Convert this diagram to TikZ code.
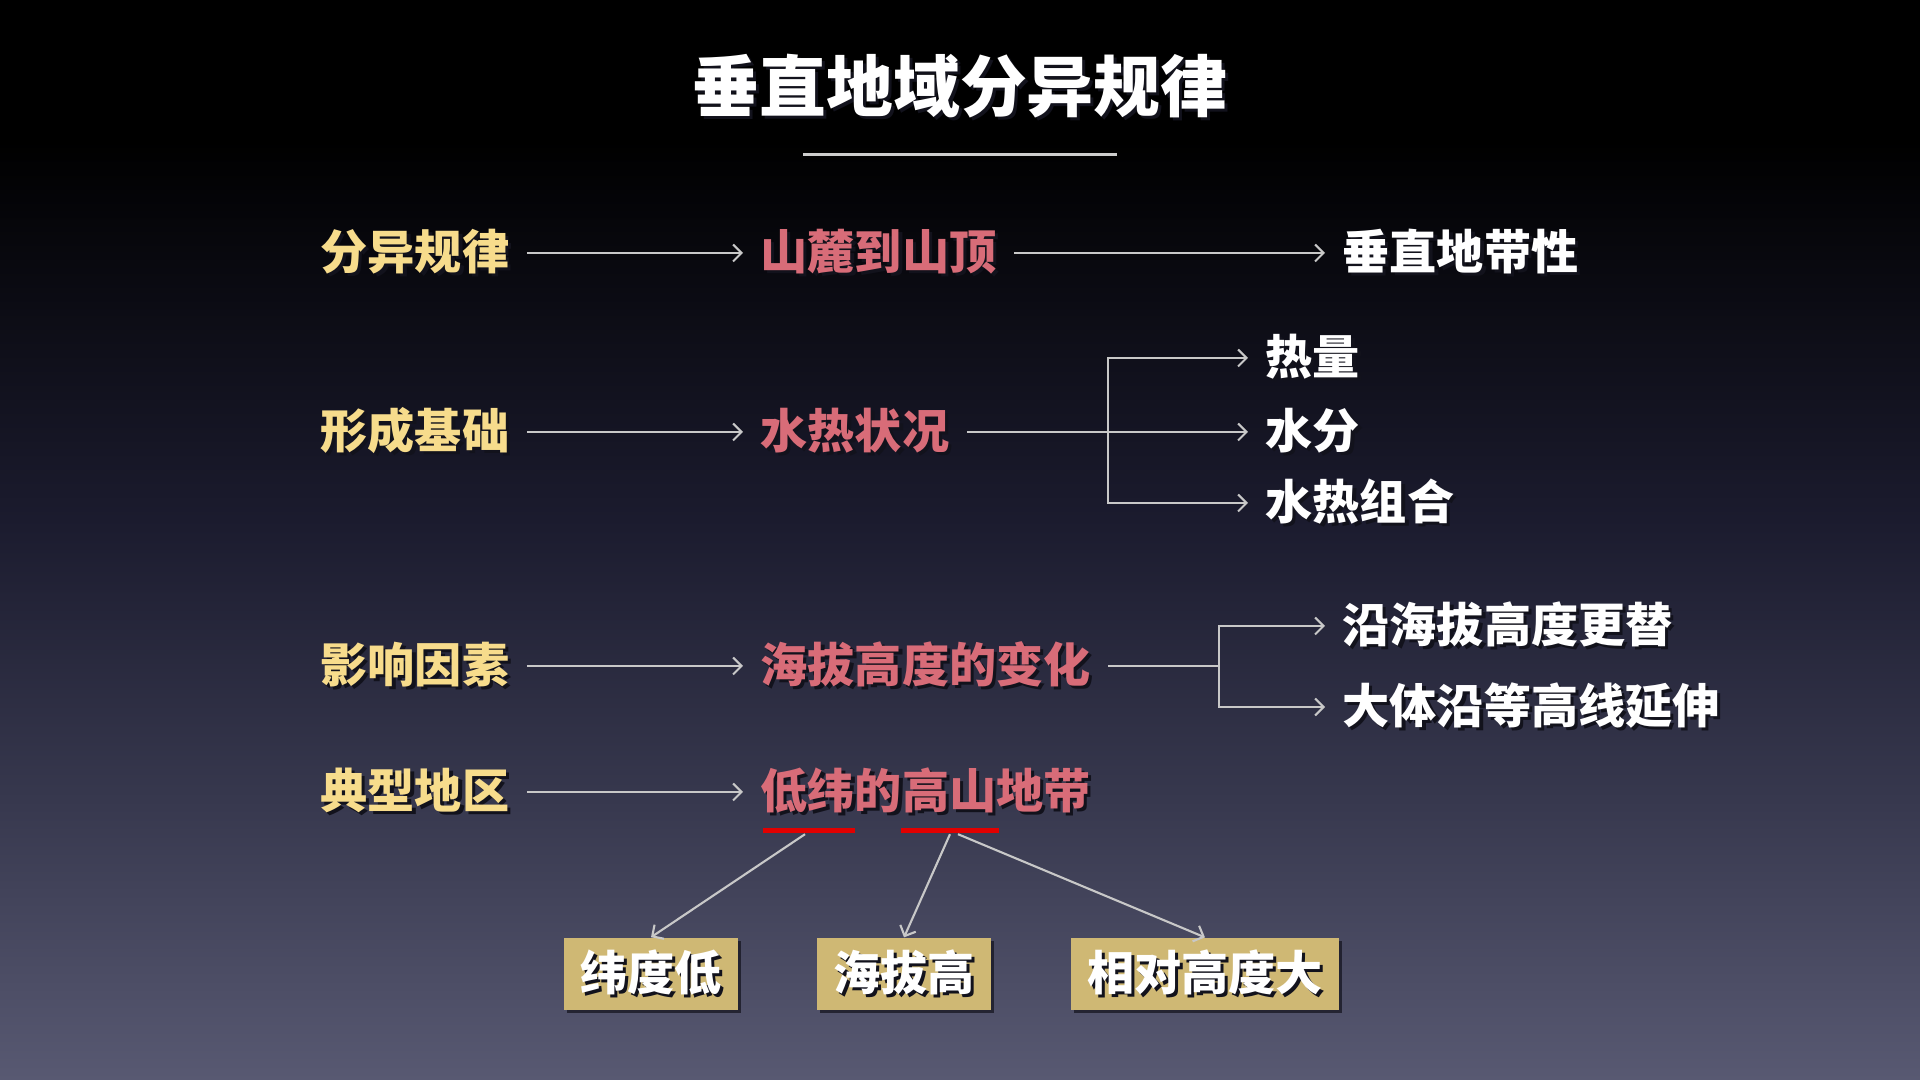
\documentclass[tikz,border=0pt]{standalone}
\usepackage{fontspec}
\usetikzlibrary{arrows.meta,shadows}
\newfontfamily\cjk{Noto Sans CJK SC}

\definecolor{bgbot}{RGB}{88,89,114}
\definecolor{bgmid}{RGB}{55,56,78}
\definecolor{bgdark}{RGB}{27,27,46}
\definecolor{labelyellow}{RGB}{247,220,140}
\definecolor{keypink}{RGB}{216,108,120}
\definecolor{boxtan}{RGB}{207,184,116}
\definecolor{linkgray}{RGB}{200,200,200}
\definecolor{markred}{RGB}{226,0,0}
\definecolor{txtshadow}{RGB}{18,18,28}
% the picture spans 25bp..75bp of the shading
\pgfdeclareverticalshading{slidebg}{100bp}{color(0bp)=(bgbot); color(25bp)=(bgbot); color(38bp)=(bgmid); color(51bp)=(bgdark); color(68.5bp)=(black); color(100bp)=(black)}

\newcommand\shtext[1]{\makebox[0pt][l]{\raisebox{-0.9pt}{\hspace{0.9pt}\textcolor{txtshadow}{#1}}}#1}

\tikzset{
  rowfont/.style={font=\cjk\bfseries\fontsize{13.4pt}{15pt}\selectfont},
  lefttext/.style={rowfont, anchor=west, text=labelyellow, inner xsep=0.17cm},
  midtext/.style={rowfont, anchor=west, text=keypink, inner xsep=0.17cm},
  righttext/.style={rowfont, anchor=west, text=white, inner xsep=0.17cm},
  tanbox/.style={rowfont, fill=boxtan, text=white, minimum height=0.71cm, inner xsep=0.16cm,
    drop shadow={shadow xshift=0.03cm, shadow yshift=-0.03cm, fill=txtshadow, opacity=0.7}},
  markline/.style={fill=markred, minimum height=0.05cm, inner sep=0pt},
  link/.style={draw=linkgray, line width=0.6pt, -{Straight Barb[length=2.4pt,width=4.8pt]}},
  plainlink/.style={draw=linkgray, line width=0.6pt}
}

\begin{document}
\begin{tikzpicture}[x=0.01cm,y=-0.01cm]
  \useasboundingbox (0,0) rectangle (1920,1080);
  \shade[shading=slidebg] (0,0) rectangle (1920,1080);

  % title
  \node[text=white, font=\cjk\bfseries\fontsize{19pt}{23pt}\selectfont] (title) at (960,88) {\shtext{垂直地域分异规律}};
  \draw[draw=linkgray!90!white, line width=0.85pt] (803,155) -- (1117,155);

  % row 1
  \node[lefttext] (ruleA) at (303,253) {\shtext{分异规律}};
  \node[midtext] (ruleB) at (743,253) {\shtext{山麓到山顶}};
  \node[righttext] (ruleC) at (1325,253) {\shtext{垂直地带性}};
  \draw[link] (ruleA) -- (ruleB);
  \draw[link] (ruleB) -- (ruleC);

  % row 2
  \node[lefttext] (baseA) at (303,432) {\shtext{形成基础}};
  \node[midtext] (baseB) at (743,432) {\shtext{水热状况}};
  \coordinate (baseJ) at (1108,432);
  \node[righttext] (heat) at (1248,358) {\shtext{热量}};
  \node[righttext] (water) at (1248,432) {\shtext{水分}};
  \node[righttext] (combo) at (1248,503) {\shtext{水热组合}};
  \draw[link] (baseA) -- (baseB);
  \draw[link] (baseB) -- (water);
  \draw[link] (baseJ) |- (heat);
  \draw[link] (baseJ) |- (combo);

  % row 3
  \node[lefttext] (factA) at (303,666) {\shtext{影响因素}};
  \node[midtext] (factB) at (743,666) {\shtext{海拔高度的变化}};
  \coordinate (factJ) at (1219,666);
  \node[righttext] (alongH) at (1325,626) {\shtext{沿海拔高度更替}};
  \node[righttext] (alongC) at (1325,707) {\shtext{大体沿等高线延伸}};
  \draw[link] (factA) -- (factB);
  \draw[plainlink] (factB) -- (factJ);
  \draw[link] (factJ) |- (alongH);
  \draw[link] (factJ) |- (alongC);

  % row 4
  \node[lefttext] (areaA) at (303,792) {\shtext{典型地区}};
  \node[midtext] (areaB) at (743,792) {\shtext{低纬的高山地带}};
  \draw[link] (areaA) -- (areaB);
  \node[markline, minimum width=0.91cm] (latLine) at (809,831) {};
  \node[markline, minimum width=0.97cm] (altLine) at (950,831) {};

  \node[tanbox] (lowLat) at (651,974) {\shtext{纬度低}};
  \node[tanbox] (highAlt) at (904,974) {\shtext{海拔高}};
  \node[tanbox] (bigRel) at (1205,974) {\shtext{相对高度大}};
  \draw[link] ([xshift=-0.04cm]latLine.south) -- (lowLat.north);
  \draw[link] (altLine.south) -- (highAlt.north);
  \draw[link] ([xshift=0.08cm]altLine.south) -- (bigRel.north);
\end{tikzpicture}
\end{document}
